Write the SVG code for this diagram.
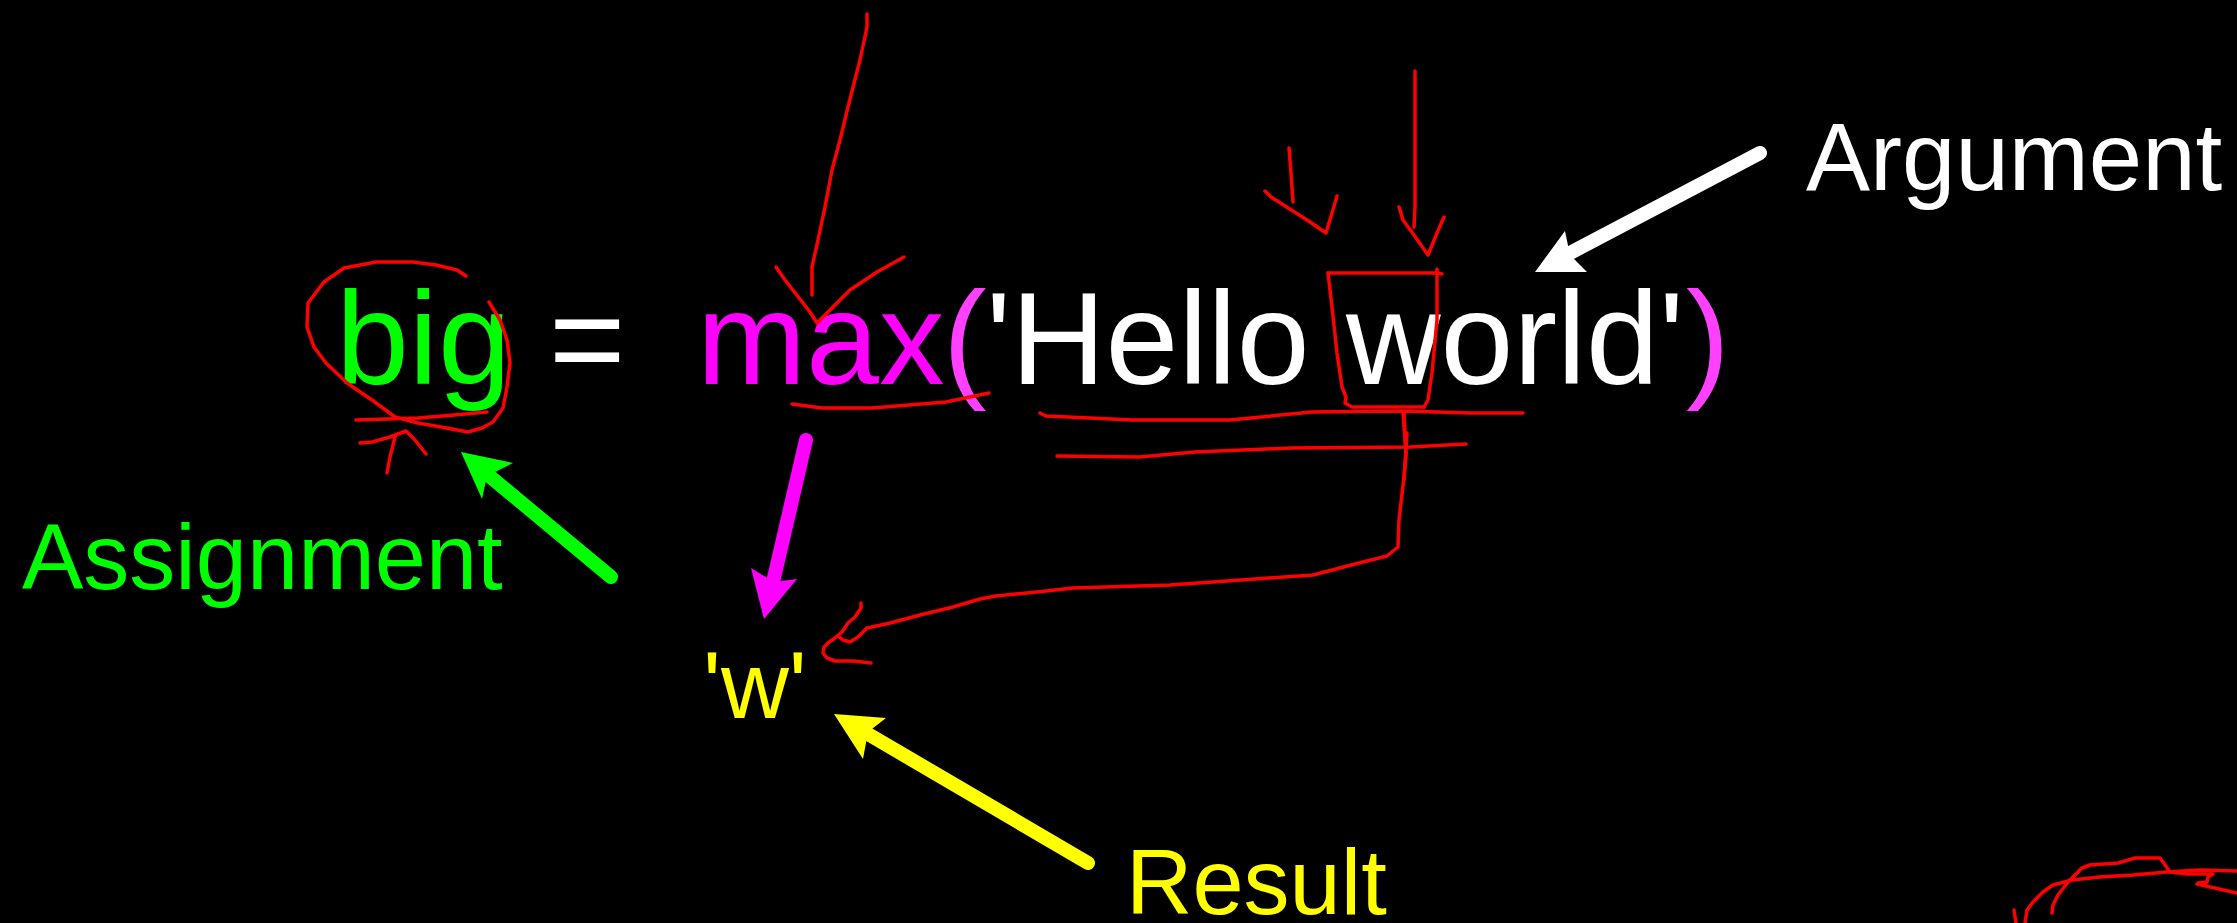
<svg xmlns="http://www.w3.org/2000/svg" width="2237" height="923" viewBox="0 0 2237 923">
<style>
text{font-family:"Liberation Sans",Arial,sans-serif}
.code{font-size:131px}
.lbl{font-size:92px}
.ink{fill:none;stroke:#ff0000;stroke-width:3.5;stroke-linecap:round;stroke-linejoin:round}
.arr{fill:none;stroke-width:14;stroke-linecap:round}
</style>
<rect width="2237" height="923" fill="#000"/>
<g id="code">
<text class="code" y="384"><tspan x="336" fill="#00ff00">big</tspan><tspan x="549" fill="#ffffff">=</tspan><tspan x="697" fill="#ff00ff">max</tspan><tspan x="943" fill="#ff40ff">(</tspan><tspan x="986" fill="#ffffff">'Hello world'</tspan><tspan x="1686" fill="#ff40ff">)</tspan></text>
</g>
<g id="assignment"><text class="lbl" x="22" y="589" fill="#00ff00">Assignment</text></g>
<g id="argument"><text class="lbl" x="1806" y="190" fill="#ffffff" style="font-size:96px">Argument</text></g>
<g id="result"><text class="lbl" x="1126" y="914" fill="#ffff00">Result</text></g>
<g id="value"><text x="703" y="718" fill="#ffff00" style="font-size:94px">'w'</text></g>
<g id="connectors">
<line class="arr" stroke="#00ff00" x1="611" y1="577" x2="487" y2="474"/>
<polygon fill="#00ff00" points="461,452 513,463 487,476 482,499"/>
<line class="arr" stroke="#ff00ff" x1="806" y1="440" x2="774" y2="578"/>
<polygon fill="#ff00ff" points="764,619 751,568 774,582 797,579"/>
<line class="arr" stroke="#ffff00" x1="1088" y1="863" x2="868" y2="734"/>
<polygon fill="#ffff00" points="834,714 886,718 868,732 863,759"/>
<line class="arr" stroke="#ffffff" x1="1760" y1="153" x2="1570" y2="253"/>
<polygon fill="#ffffff" points="1535,272 1565,231 1570,255 1587,272"/>
</g>
<g id="annotations">
<polyline class="ink" points="867,14 867,27 860,60 848,107 840,140 832,170 825,207 818,240 812,267 812,295"/>
<polyline class="ink" points="776,267 785,280 810,312 817,323 850,290 877,272 904,257"/>
<polyline class="ink" points="466,276 457,270 436,265 413,262 376,262 344,268 324,282 308,303 307,327 314,347 326,363 347,383 372,400 395,417 418,423 441,427 468,432 482,428 493,422 503,408 507,387 510,363 507,340 500,320 489,302"/>
<polyline class="ink" points="356,420 418,418 454,415 487,412"/>
<polyline class="ink" points="360,443 372,442 390,437 406,431 415,440 426,454"/>
<polyline class="ink" points="387,473 390,457 395,437"/>
<polyline class="ink" points="792,404 822,408 872,408 946,402 989,393"/>
<polyline class="ink" points="1328,273 1437,273 1442,274"/>
<polyline class="ink" points="1328,273 1332,307 1337,353 1342,387 1346,397 1345,403 1352,407 1424,407"/>
<polyline class="ink" points="1437,269 1437,320 1432,373 1428,400 1424,407"/>
<polyline class="ink" points="1415,71 1415,207 1414,227"/>
<polyline class="ink" points="1399,207 1403,220 1414,235 1428,255 1437,233 1444,217"/>
<polyline class="ink" points="1289,148 1291,173 1293,202"/>
<polyline class="ink" points="1265,191 1271,197 1307,220 1326,233 1332,213 1337,196"/>
<polyline class="ink" points="1040,413 1046,416 1133,420 1230,420 1312,412 1403,411 1470,413 1523,413"/>
<polyline class="ink" points="1057,456 1139,457 1195,452 1292,448 1410,447 1466,444"/>
<polyline class="ink" points="1403,413 1406,453 1404,480 1407,433"/>
<polyline class="ink" points="1404,413 1406,453 1404,477 1399,520 1398,547 1387,556 1359,563 1313,575 1241,580 1170,585 1073,588 1037,592 996,596 980,599 953,607 920,615 890,623 867,628 863,632 858,637 850,642 843,640 838,636"/>
<polyline class="ink" points="861,603 861,608 855,617 848,623 842,632 835,638 828,643 824,647 823,653 827,658 835,661 853,661 871,663"/>
<polyline class="ink" points="2052,913 2053,905 2058,895 2068,882 2082,868 2090,865 2118,863 2125,861 2135,858 2160,858 2163,862 2170,872 2187,874 2213,874 2208,877 2207,882 2198,883 2197,884 2237,893"/>
<polyline class="ink" points="2025,923 2027,910 2033,902 2043,892 2053,885 2072,880 2100,877 2133,875 2167,872 2200,870 2237,871"/>
<polyline class="ink" points="2014,910 2016,923"/>
</g>
</svg>
